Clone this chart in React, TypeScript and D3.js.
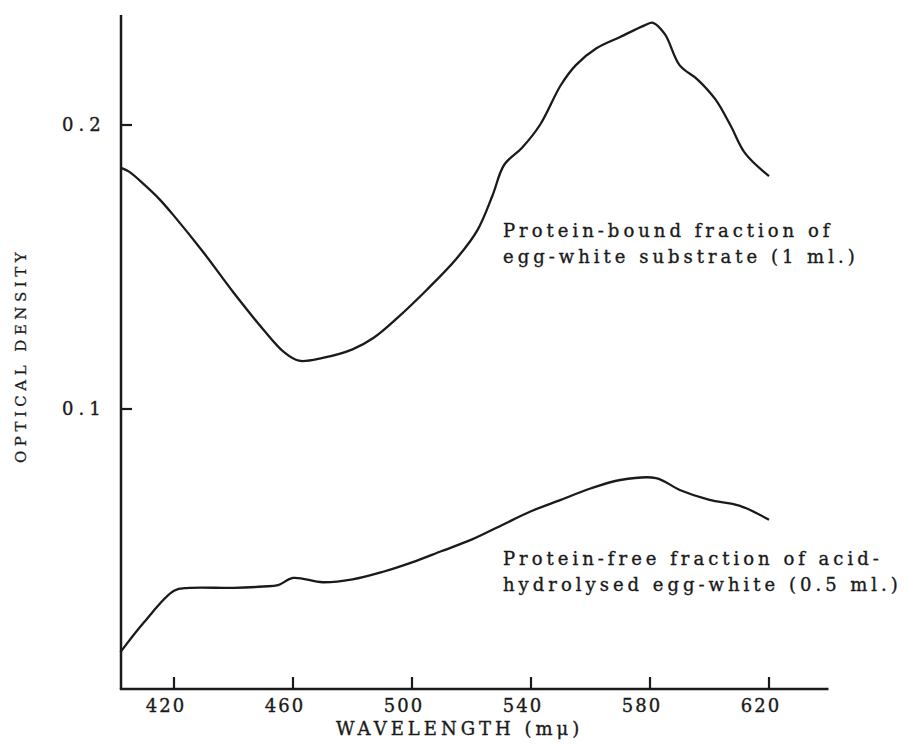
import React from "react";
import * as d3 from "d3";

const boundWl = [402, 405, 410, 415, 420, 430, 440, 450, 457, 462, 470, 480, 487, 495, 505, 515, 522, 527, 531, 537, 543, 550, 555, 562, 570, 578, 581, 585, 590, 596, 602, 607, 612, 620];
const boundOD = [0.185, 0.1835, 0.179, 0.174, 0.168, 0.155, 0.141, 0.128, 0.12, 0.117, 0.118, 0.121, 0.125, 0.132, 0.142, 0.153, 0.163, 0.175, 0.186, 0.192, 0.2, 0.214, 0.221, 0.227, 0.231, 0.235, 0.236, 0.232, 0.221, 0.216, 0.209, 0.2, 0.19, 0.182];

const freeWl = [402, 410, 420, 425, 440, 450, 455, 460, 470, 480, 490, 500, 510, 520, 530, 540, 550, 560, 570, 582, 590, 600, 610, 620];
const freeOD = [0.0144, 0.025, 0.036, 0.037, 0.037, 0.0375, 0.038, 0.0405, 0.039, 0.04, 0.0426, 0.046, 0.05, 0.054, 0.059, 0.064, 0.068, 0.072, 0.075, 0.0757, 0.0715, 0.068, 0.066, 0.061];

const xTicks = [420, 460, 500, 540, 580, 620];
const yTicks = [0.1, 0.2];
const yTickLabels = ["0.1", "0.2"];

const labelBound = ["Protein-bound fraction of", "egg-white substrate (1 ml.)"];
const labelFree = ["Protein-free fraction of acid-", "hydrolysed egg-white (0.5 ml.)"];

const FONT = "'DejaVu Serif', serif";
const INK = "#1a1a1a";

export default function App() {
  const x = d3.scaleLinear().domain([420, 540]).range([174, 531]);
  const y = d3.scaleLinear().domain([0.1, 0.2]).range([409, 125]);
  const xAxisY = 689;
  const yAxisX = 121;
  const xEnd = 640;

  const line = d3
    .line<[number, number]>()
    .x((d) => x(d[0]))
    .y((d) => y(d[1]))
    .curve(d3.curveCatmullRom.alpha(0.5));

  const bound: [number, number][] = boundWl.map((w, i) => [w, boundOD[i]]);
  const free: [number, number][] = freeWl.map((w, i) => [w, freeOD[i]]);

  const textStyle = { stroke: INK, strokeWidth: 0.35 };

  return (
    <svg width={910} height={745} style={{ position: "absolute", left: 0, top: 0, background: "#fff" }}>
      {/* axes */}
      <line x1={yAxisX} y1={15} x2={yAxisX} y2={xAxisY} stroke={INK} strokeWidth={2.5} />
      <line x1={yAxisX - 1.2} y1={xAxisY} x2={x(xEnd)} y2={xAxisY} stroke={INK} strokeWidth={2.5} />
      {xTicks.map((t) => (
        <g key={t}>
          <line x1={x(t)} x2={x(t)} y1={xAxisY} y2={xAxisY - 12} stroke={INK} strokeWidth={2.2} />
          <text x={x(t) - 8} y={712} fontFamily={FONT} fontSize={18} letterSpacing={2} textAnchor="middle" fill={INK} style={textStyle}>
            {t}
          </text>
        </g>
      ))}
      {yTicks.map((t, i) => (
        <g key={t}>
          <line x1={yAxisX} x2={yAxisX + 11} y1={y(t)} y2={y(t)} stroke={INK} strokeWidth={2.2} />
          <text x={62} y={y(t) + 6} fontFamily={FONT} fontSize={18} letterSpacing={5} fill={INK} style={textStyle}>
            {yTickLabels[i]}
          </text>
        </g>
      ))}
      <text x={336} y={735} fontFamily={FONT} fontSize={18} letterSpacing={4} fill={INK} style={textStyle}>
        WAVELENGTH (mμ)
      </text>
      <text
        transform={`translate(26, 463) rotate(-90)`}
        fontFamily={FONT}
        fontSize={15}
        letterSpacing={4.5}
        fill={INK}
        style={{ stroke: INK, strokeWidth: 0.25 }}
      >
        OPTICAL DENSITY
      </text>

      {/* curves */}
      <path d={line(bound) || ""} fill="none" stroke={INK} strokeWidth={2.3} />
      <path d={line(free) || ""} fill="none" stroke={INK} strokeWidth={2.3} />

      {/* labels */}
      {labelBound.map((s, i) => (
        <text key={s} x={503} y={237 + i * 26} fontFamily={FONT} fontSize={18} letterSpacing={4} fill={INK} style={textStyle}>
          {s}
        </text>
      ))}
      {labelFree.map((s, i) => (
        <text key={s} x={503} y={565 + i * 26} fontFamily={FONT} fontSize={18} letterSpacing={4} fill={INK} style={textStyle}>
          {s}
        </text>
      ))}
    </svg>
  );
}
